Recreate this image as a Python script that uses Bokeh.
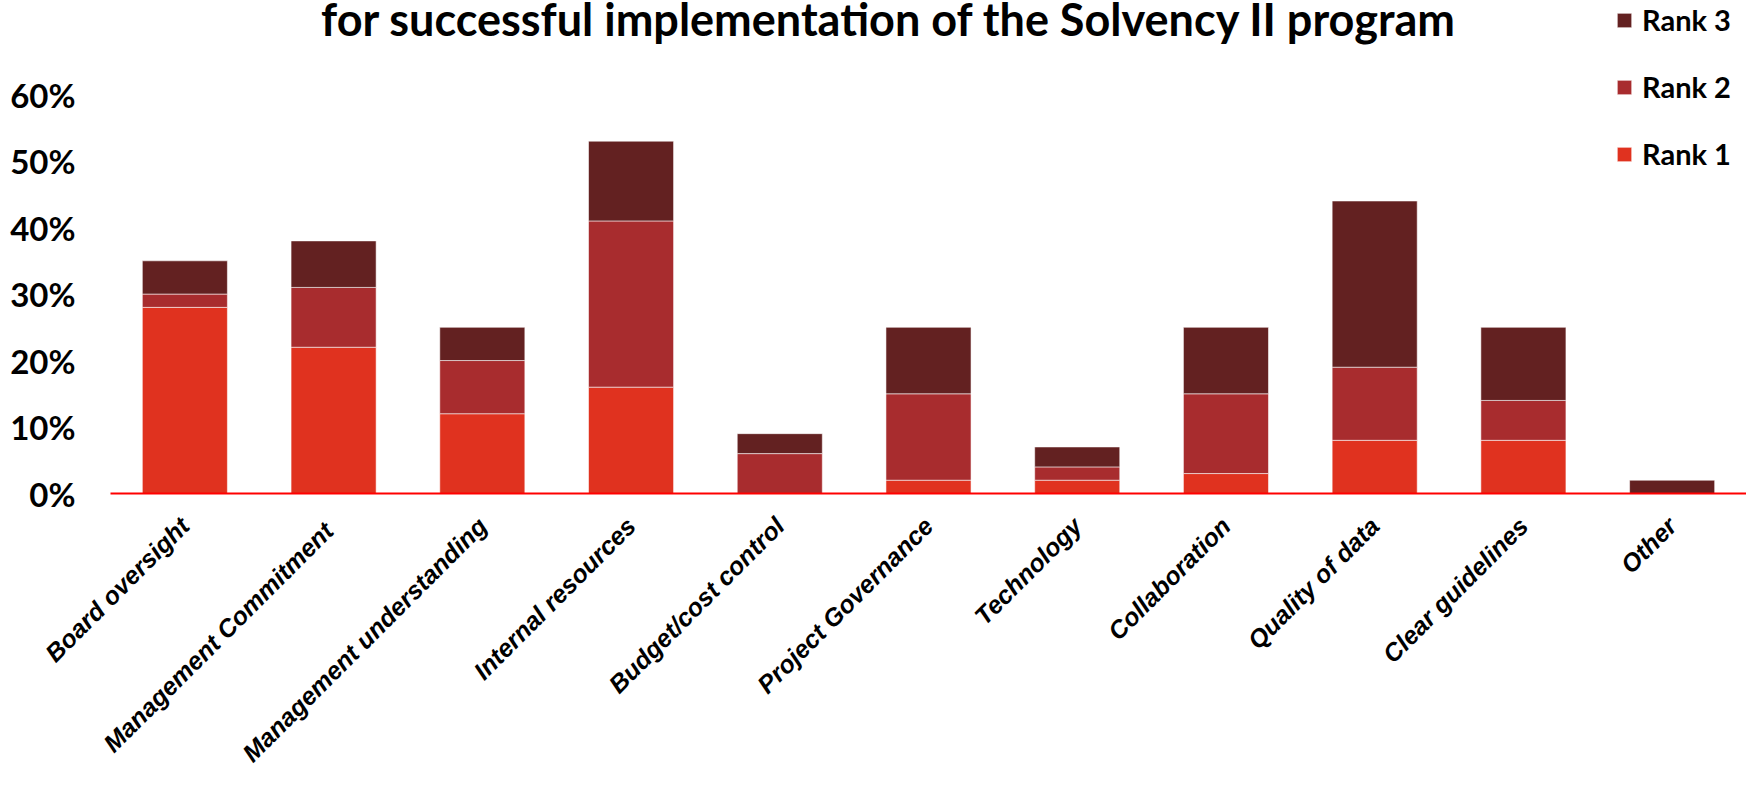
import math
from bokeh.plotting import figure
from bokeh.models import (FactorRange, Range1d, FixedTicker, NumeralTickFormatter,
                          Legend, LegendItem, Label, ColumnDataSource)
from bokeh.embed import file_html
from bokeh.resources import INLINE

categories = ["Board oversight", "Management  Commitment", "Management understanding",
              "Internal resources", "Budget/cost control", "Project Governance",
              "Technology", "Collaboration", "Quality of data", "Clear guidelines", "Other"]
rank1 = [0.28, 0.22, 0.12, 0.16, 0.00, 0.02, 0.02, 0.03, 0.08, 0.08, 0.00]
rank2 = [0.02, 0.09, 0.08, 0.25, 0.06, 0.13, 0.02, 0.12, 0.11, 0.06, 0.00]
rank3 = [0.05, 0.07, 0.05, 0.12, 0.03, 0.10, 0.03, 0.10, 0.25, 0.11, 0.02]
series = ["Rank 1", "Rank 2", "Rank 3"]
colors = ["#E0321F", "#A82C2E", "#632121"]
y_ticks = [0.0, 0.1, 0.2, 0.3, 0.4, 0.5, 0.6]
title_text = "for successful implementation of the Solvency II program"

source = ColumnDataSource(dict(cat=categories, r1=rank1, r2=rank2, r3=rank3))

p = figure(width=1746, height=780, output_backend="svg", toolbar_location=None,
           x_range=FactorRange(factors=categories, range_padding=0),
           y_range=Range1d(0, 0.7416),
           min_border_left=110, min_border_right=0, min_border_top=0, min_border_bottom=280)
p.outline_line_color = None
p.background_fill_color = "white"
p.border_fill_color = "white"
p.xgrid.grid_line_color = None
p.ygrid.grid_line_color = None

rs = p.vbar_stack(["r1", "r2", "r3"], x="cat", width=0.572, source=source,
                  fill_color=colors, line_color="white", line_alpha=0.55, line_width=1)

# axes
p.yaxis.ticker = FixedTicker(ticks=y_ticks)
p.yaxis.formatter = NumeralTickFormatter(format="0%")
p.yaxis.axis_line_color = None
p.yaxis.major_tick_line_color = None
p.yaxis.minor_tick_line_color = None
p.yaxis.major_tick_out = 0
p.yaxis.major_tick_in = 0
p.yaxis.minor_tick_out = 0
p.yaxis.major_label_text_font = "Lato"
p.yaxis.major_label_text_font_style = "bold"
p.yaxis.major_label_text_font_size = "33px"
p.yaxis.major_label_text_color = "black"
p.yaxis.major_label_standoff = 35

p.xaxis.axis_line_color = "#FF0000"
p.xaxis.axis_line_width = 2
p.xaxis.major_tick_line_color = None
p.xaxis.minor_tick_line_color = None
p.xaxis.major_tick_out = 0
p.xaxis.major_tick_in = 0
p.xaxis.minor_tick_out = 0
p.xaxis.major_label_orientation = math.pi / 4
p.xaxis.major_label_text_font = "Liberation Sans"
p.xaxis.major_label_text_font_style = "bold italic"
p.xaxis.major_label_text_font_size = "25px"
p.xaxis.major_label_text_color = "black"
p.xaxis.major_label_standoff = 28

# legend (Rank 3 on top)
items = [LegendItem(label=series[i], renderers=[rs[i]]) for i in (2, 1, 0)]
legend = Legend(items=items, location=(1505, 322), orientation="vertical",
                glyph_width=18, glyph_height=18, label_standoff=9,
                label_text_font="Lato", label_text_font_style="bold",
                label_text_font_size="29px", label_text_color="black",
                label_height=30, spacing=32, padding=0, margin=0,
                border_line_color=None, background_fill_alpha=0)
p.add_layout(legend, "center")

title = Label(x=779, y=475, x_units="screen", y_units="screen", text=title_text,
              text_align="center", text_baseline="alphabetic",
              text_font="Lato", text_font_style="bold", text_font_size="45px",
              text_color="black")
p.add_layout(title)

open("out.html", "w").write(file_html(p, INLINE))
